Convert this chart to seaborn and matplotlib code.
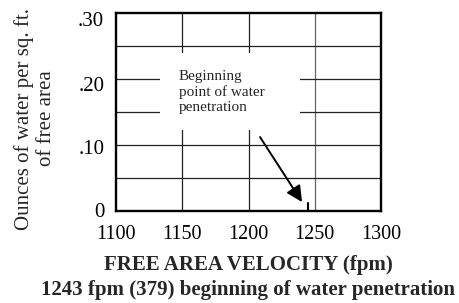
import matplotlib
matplotlib.use("Agg")
import matplotlib.pyplot as plt
from matplotlib.patches import Rectangle
from matplotlib.transforms import ScaledTranslation
import seaborn as sns

# Data
velocity_fpm = [1245, 1245]          # beginning of water penetration mark
water_oz = [0.0, 0.012]
x_ticks = [1100, 1150, 1200, 1250, 1300]
y_ticks = [0, 0.10, 0.20, 0.30]
y_tick_labels = ["0", ".10", ".20", ".30"]
x_grid = [1150, 1200, 1250]
y_grid = [0.05, 0.10, 0.15, 0.20, 0.25]

sns.set_theme(style="white")
plt.rcParams['font.family'] = ['Liberation Serif', 'DejaVu Serif']

W, H = 460, 303
fig = plt.figure(figsize=(W / 100, H / 100), dpi=100)
ax = fig.add_axes([116 / W, 1 - 211 / H, 265 / W, 198 / H])

# grid lines
for gx in x_grid:
    ax.axvline(gx, color="#666666" if gx == 1250 else "#222222", lw=0.9, zorder=1)
for gy in y_grid:
    ax.axhline(gy, color="#222222", lw=0.9, zorder=1)

# white box behind the annotation text
ax.add_patch(Rectangle((1133.2, 0.1227), 105.7, 0.1167, facecolor="white",
                       edgecolor="none", zorder=2))
ax.text(1147.5, 0.180, "Beginning\npoint of water\npenetration",
        fontsize=11, va="center", ha="left", linespacing=1.2, zorder=3)

sns.lineplot(x=velocity_fpm, y=water_oz, estimator=None, sort=False,
             color="black", lw=1.5, ax=ax, zorder=4)

ax.annotate("", xy=(1240.4, 0.0136), xytext=(1208.7, 0.112),
            arrowprops=dict(arrowstyle="-|>", color="black", lw=1.4,
                            mutation_scale=24, shrinkA=0, shrinkB=0),
            zorder=4)

ax.set_xlim(1100, 1300)
ax.set_ylim(0, 0.30)
ax.set_xticks(x_ticks)
ax.set_yticks(y_ticks)
ax.set_yticklabels(y_tick_labels)
ax.tick_params(axis="x", length=0, labelsize=14.5, colors="black", pad=10)
ax.tick_params(axis="y", length=0, labelsize=15, colors="black", pad=8.5)
for s in ax.spines.values():
    s.set_linewidth(1.7)
    s.set_color("black")
    s.set_zorder(5)

# the printed y labels sit a little lower than their gridlines
for lab, dy in zip(ax.get_yticklabels(), [-1, 2, 5, 6]):
    lab.set_transform(lab.get_transform() +
                      ScaledTranslation(0, -dy / 100, fig.dpi_scale_trans))

fig.text(35 / W, 1 - 118.5 / H, "Ounces of water per sq. ft.\nof free area",
         fontsize=15, rotation=90, ha="center", va="center",
         multialignment="center", linespacing=1.2)
fig.text(248 / W, 1 - 265 / H, "FREE AREA VELOCITY (fpm)", fontsize=15,
         fontweight="bold", ha="center", va="center")
fig.text(248 / W, 1 - 290 / H, "1243 fpm (379) beginning of water penetration",
         fontsize=15, fontweight="bold", ha="center", va="center")

fig.savefig("out.png", dpi=100)
